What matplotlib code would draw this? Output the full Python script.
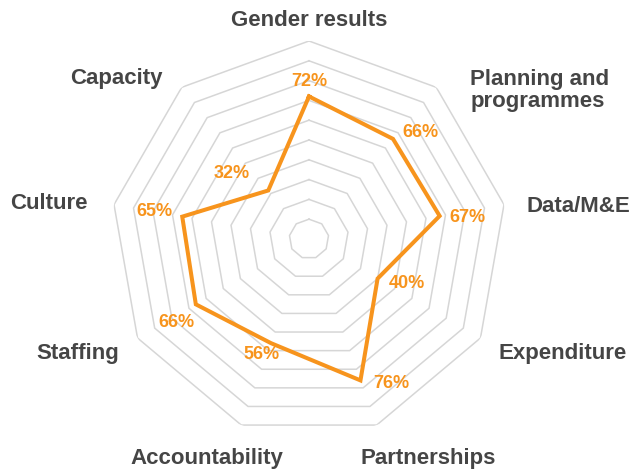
import matplotlib.pyplot as plt
import numpy as np

categories = ["Gender results", "Planning and\nprogrammes", "Data/M&E", "Expenditure",
              "Partnerships", "Accountability", "Staffing", "Culture", "Capacity"]
scores = [72, 66, 67, 40, 76, 56, 66, 65, 32]
rings = [10, 20, 30, 40, 50, 60, 70, 80, 90, 100]

orange = "#f7941d"
dark = "#454545"
grey = "#d6d6d6"

# label placement: pixel offset from outer vertex, alignment
cat_pos = [(0, 21, "center"), (34, -3, "left"), (23, -2, "left"), (18, -15, "left"),
           (51, -33, "center"), (-34, -33, "center"), (-18, -15, "right"),
           (-26, 1, "right"), (-19, 9, "right")]
# value label offsets from data point
val_pos = [(0, 15), (27, 6), (28, -2), (29, -5), (31, -3), (-10, -11), (-19, -18),
           (-28, 5), (-37, 17)]

n = len(categories)
angles = np.arange(n) * 2 * np.pi / n
closed = np.append(angles, angles[0])

fig = plt.figure(figsize=(6.4, 4.72), dpi=100)
ax = fig.add_axes([111 / 640, 35 / 472, 396 / 640, 396 / 472], projection="polar")
ax.set_theta_zero_location("N")
ax.set_theta_direction(-1)
ax.set_ylim(0, 100)
ax.axis("off")

for r in rings:
    ax.plot(closed, [r] * (n + 1), color=grey, lw=1.1, zorder=1)

ax.plot(closed, scores + scores[:1], color=orange, lw=2.9, zorder=3, solid_joinstyle="miter")

for a, lab, (dx, dy, ha) in zip(angles, categories, cat_pos):
    ax.annotate(lab, xy=(a, 100), xytext=(dx, dy), textcoords="offset pixels",
                ha=ha, va="center", ma="left", fontsize=16, fontweight="bold",
                color=dark, family="Liberation Sans", linespacing=1.1, annotation_clip=False)

for a, v, (dx, dy) in zip(angles, scores, val_pos):
    ax.annotate(f"{v}%", xy=(a, v), xytext=(dx, dy), textcoords="offset pixels",
                ha="center", va="center", fontsize=13, fontweight="bold",
                color=orange, family="Liberation Sans", annotation_clip=False)

fig.savefig("out.png", dpi=100)
